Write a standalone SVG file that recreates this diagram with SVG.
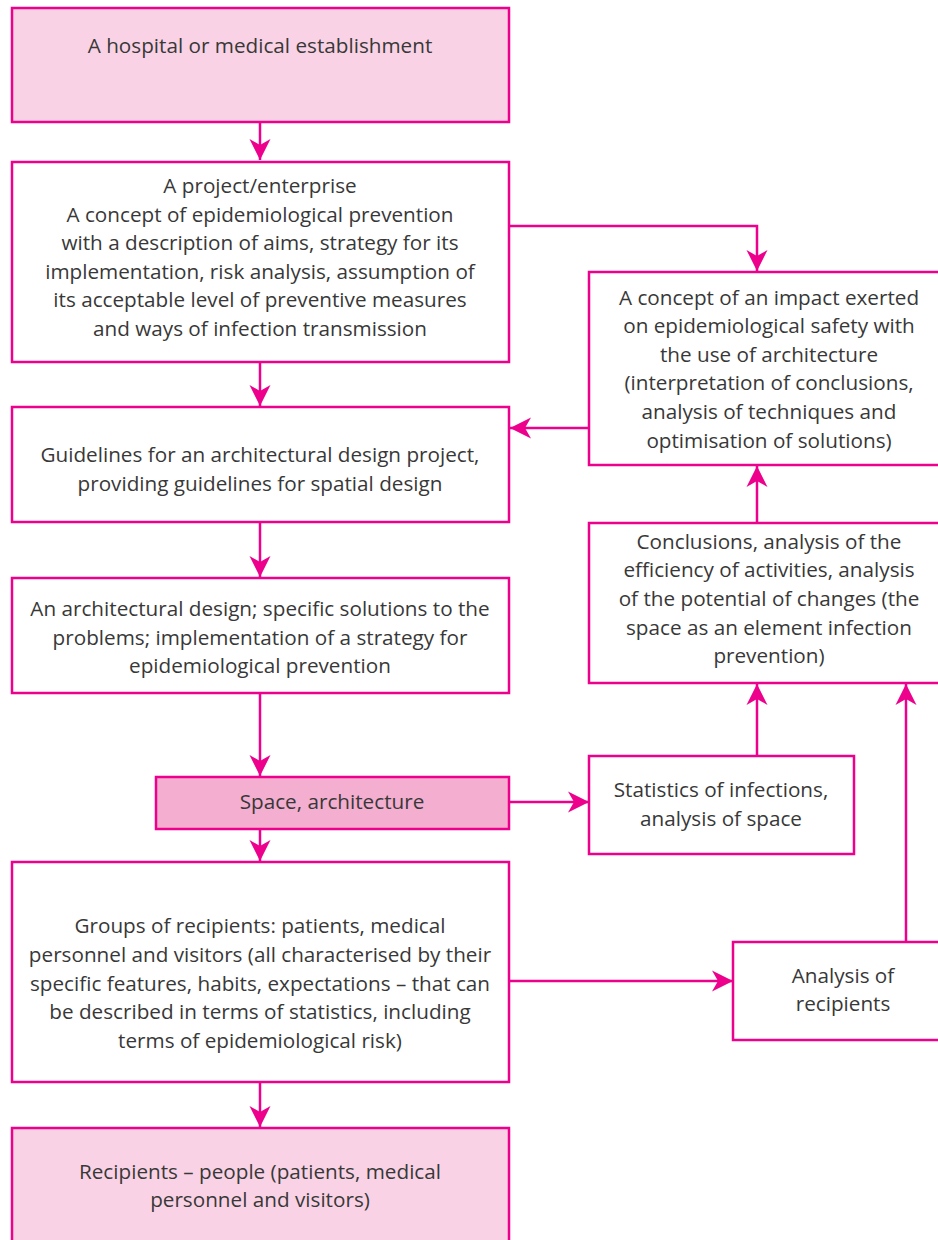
<svg xmlns="http://www.w3.org/2000/svg" width="938" height="1240" viewBox="0 0 938 1240">
<style>
.box{fill:#ffffff;stroke:#ec008c;stroke-width:2.5}
.pink{fill:#f9d3e5}
.dark{fill:#f3aed0}
.t{font-family:"Open Sans","Noto Sans",sans-serif;font-size:20.7px;fill:#383838;text-anchor:middle}
.c{fill:none;stroke:#ec008c;stroke-width:2.5}
</style>
<defs>
<marker id="ah" markerUnits="userSpaceOnUse" markerWidth="24" markerHeight="24" viewBox="-22 -12 24 24" refX="0" refY="0" orient="auto">
<path d="M0,0 L-21,-10.5 L-15,0 L-21,10.5 Z" fill="#ec008c"/>
</marker>
</defs>
<rect width="938" height="1240" fill="#ffffff"/>
<g id="connectors">
<path class="c" d="M260,122 V160" marker-end="url(#ah)"/>
<path class="c" d="M509,226 H757 V271" marker-end="url(#ah)"/>
<path class="c" d="M260,362 V406" marker-end="url(#ah)"/>
<path class="c" d="M589,428 H510" marker-end="url(#ah)"/>
<path class="c" d="M260,522 V577" marker-end="url(#ah)"/>
<path class="c" d="M260,693 V776" marker-end="url(#ah)"/>
<path class="c" d="M509,802 H589" marker-end="url(#ah)"/>
<path class="c" d="M757,755 V684" marker-end="url(#ah)"/>
<path class="c" d="M757,523 V466" marker-end="url(#ah)"/>
<path class="c" d="M906,942 V684" marker-end="url(#ah)"/>
<path class="c" d="M260,829 V861" marker-end="url(#ah)"/>
<path class="c" d="M509,981 H733" marker-end="url(#ah)"/>
<path class="c" d="M260,1082 V1127" marker-end="url(#ah)"/>
</g>
<g id="n1">
<rect class="box pink" x="12" y="8" width="497" height="114"/>
<text class="t" x="260" y="53">A hospital or medical establishment</text>
</g>
<g id="n2">
<rect class="box" x="12" y="162" width="497" height="200"/>
<text class="t" x="260" y="193">A project/enterprise</text>
<text class="t" x="260" y="222">A concept of epidemiological prevention</text>
<text class="t" x="260" y="250">with a description of aims, strategy for its</text>
<text class="t" x="260" y="279">implementation, risk analysis, assumption of</text>
<text class="t" x="260" y="307">its acceptable level of preventive measures</text>
<text class="t" x="260" y="336">and ways of infection transmission</text>
</g>
<g id="n3">
<rect class="box" x="589" y="272" width="360" height="193"/>
<text class="t" x="769" y="305">A concept of an impact exerted</text>
<text class="t" x="769" y="333">on epidemiological safety with</text>
<text class="t" x="769" y="362">the use of architecture</text>
<text class="t" x="769" y="390">(interpretation of conclusions,</text>
<text class="t" x="769" y="419">analysis of techniques and</text>
<text class="t" x="769" y="448">optimisation of solutions)</text>
</g>
<g id="n4">
<rect class="box" x="12" y="407" width="497" height="115"/>
<text class="t" x="260" y="462">Guidelines for an architectural design project,</text>
<text class="t" x="260" y="491">providing guidelines for spatial design</text>
</g>
<g id="n5">
<rect class="box" x="589" y="523" width="360" height="160"/>
<text class="t" x="769" y="549">Conclusions, analysis of the</text>
<text class="t" x="769" y="577">efficiency of activities, analysis</text>
<text class="t" x="769" y="606">of the potential of changes (the</text>
<text class="t" x="769" y="635">space as an element infection</text>
<text class="t" x="769" y="663">prevention)</text>
</g>
<g id="n6">
<rect class="box" x="12" y="578" width="497" height="115"/>
<text class="t" x="260" y="616">An architectural design; specific solutions to the</text>
<text class="t" x="260" y="645">problems; implementation of a strategy for</text>
<text class="t" x="260" y="673">epidemiological prevention</text>
</g>
<g id="n7">
<rect class="box dark" x="156" y="777" width="353" height="52"/>
<text class="t" x="332" y="809">Space, architecture</text>
</g>
<g id="n8">
<rect class="box" x="589" y="756" width="265" height="98"/>
<text class="t" x="721" y="797">Statistics of infections,</text>
<text class="t" x="721" y="826">analysis of space</text>
</g>
<g id="n9">
<rect class="box" x="12" y="862" width="497" height="220"/>
<text class="t" x="260" y="933">Groups of recipients: patients, medical</text>
<text class="t" x="260" y="962">personnel and visitors (all characterised by their</text>
<text class="t" x="260" y="991">specific features, habits, expectations – that can</text>
<text class="t" x="260" y="1019">be described in terms of statistics, including</text>
<text class="t" x="260" y="1048">terms of epidemiological risk)</text>
</g>
<g id="n10">
<rect class="box" x="733" y="942" width="220" height="98"/>
<text class="t" x="843" y="983">Analysis of</text>
<text class="t" x="843" y="1011">recipients</text>
</g>
<g id="n11">
<rect class="box pink" x="12" y="1128" width="497" height="130"/>
<text class="t" x="260" y="1179">Recipients – people (patients, medical</text>
<text class="t" x="260" y="1207">personnel and visitors)</text>
</g>
</svg>
